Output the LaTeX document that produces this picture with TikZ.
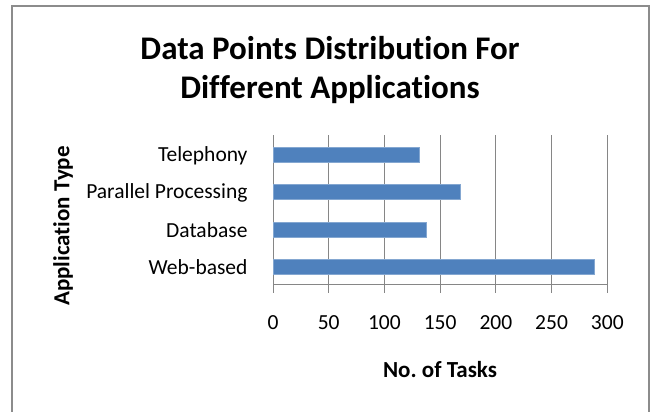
\documentclass[tikz,border=0pt]{standalone}
\usepackage{fontspec}
\setmainfont{Carlito}[Ligatures={NoCommon}]
\definecolor{barblue}{HTML}{4F81BD}
\definecolor{gridgray}{HTML}{868686}
\definecolor{framegray}{HTML}{8C8C8C}
\tikzset{
  chartframe/.style={draw=framegray, line width=2bp},
  gridline/.style={draw=gridgray, line width=1bp},
  databar/.style={fill=barblue, draw=barblue!70!white, line width=0.6bp},
  titletext/.style={font=\bfseries\fontsize{33bp}{39bp}\selectfont, align=center},
  ticktext/.style={font=\fontsize{21.5bp}{25bp}\selectfont},
  cattext/.style={font=\fontsize{21.5bp}{25bp}\selectfont, anchor=east},
  axistitle/.style={font=\bfseries\fontsize{23bp}{27bp}\selectfont}
}
\begin{document}
\begin{tikzpicture}[x=1bp,y=-1bp]
\useasboundingbox (0,0) rectangle (652,411);
\fill[white] (0,0) rectangle (652,411);
% outer chart frame (bottom edge lies below the page)
\draw[chartframe] (12,413) |- (649,6) -- (649,413);

% title
\node[titletext] (title) at (330,70) {Data Points Distribution For\\Different Applications};

% vertical gridlines and tick marks, 0..300 step 50
\foreach \v [count=\i] in {0,50,...,300} {
  \pgfmathsetmacro{\xx}{273+1.1143*\v}
  \draw[gridline] (\xx,135) -- (\xx,293);
  \node[ticktext] (tick\i) at (\xx,323) {\v};
}
% horizontal category axis
\draw[gridline] (273,284) -- (607.3,284);

% bars
\foreach \name/\val/\yc in {tel/131/154.7, par/168/192.0, db/138/229.3, web/288/266.7} {
  \pgfmathsetmacro{\xe}{273+1.1143*\val}
  \draw[databar] (273,\yc-7.5) rectangle (\xe,\yc+7.5);
}

% category labels
\node[cattext] (ltel) at (251,155.5) {Telephony};
\node[cattext] (lpar) at (251,192.8) {Parallel Processing};
\node[cattext] (ldb)  at (251,230.1) {Database};
\node[cattext] (lweb) at (251,267.5) {Web-based};

% axis titles
\node[axistitle] (xtitle) at (440,370) {No.\ of Tasks};
\node[axistitle, rotate=90] (ytitle) at (63,226) {Application Type};
\end{tikzpicture}
\end{document}
